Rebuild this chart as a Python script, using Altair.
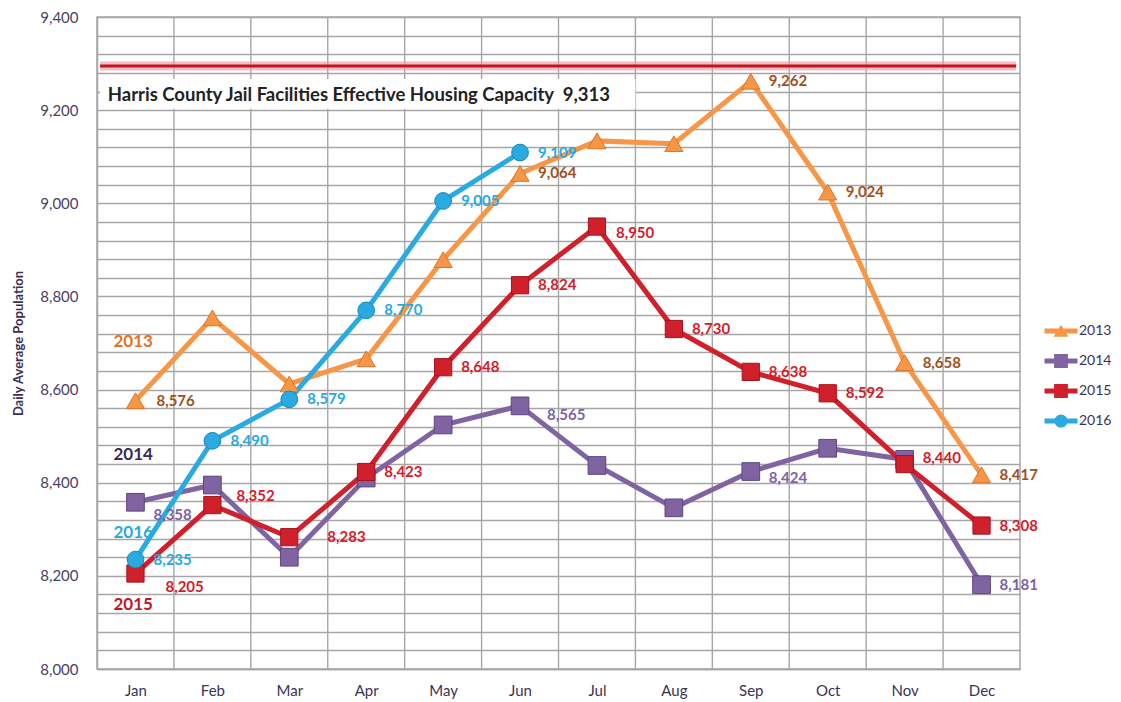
import altair as alt
import pandas as pd

MONTHS = ["Jan", "Feb", "Mar", "Apr", "May", "Jun", "Jul", "Aug", "Sep", "Oct", "Nov", "Dec"]
SERIES = ["2013", "2014", "2015", "2016"]
V2013 = [8576, 8754, 8612, 8666, 8879, 9064, 9134, 9128, 9262, 9024, 8658, 8417]
V2014 = [8358, 8395, 8240, 8410, 8524, 8565, 8437, 8346, 8424, 8474, 8450, 8181]
V2015 = [8205, 8352, 8283, 8423, 8648, 8824, 8950, 8730, 8638, 8592, 8440, 8308]
V2016 = [8235, 8490, 8579, 8770, 9005, 9109]
LABELED = {
    "2013": ["Jan", "Jun", "Sep", "Oct", "Nov", "Dec"],
    "2014": ["Jan", "Jun", "Sep", "Dec"],
    "2015": MONTHS,
    "2016": MONTHS[:6],
}
CAPACITY_TEXT = "Harris County Jail Facilities Effective Housing Capacity\u00a0 9,313"
CAPACITY_DRAWN = 9295
Y_TITLE = "Daily Average Population"
ANNOT_SERIES = ["2013", "2014", "2016", "2015"]
ANNOT_VALUES = [8702, 8459, 8292, 8137]
GRID_VALUES = list(range(8000, 9401, 40))

LINE_COLORS = ["#f79646", "#8064a2", "#d0202c", "#29abe2"]
MARK_STROKES = ["#d9772c", "#5f4585", "#a5121c", "#1a86b8"]
LABEL_COLORS = ["#a0501e", "#7d62a8", "#d41c2a", "#29a9e0"]
ANNOT_COLORS = ["#e9711c", "#3a2d52", "#c0181f", "#29a9e0"]
GRID = "#a6a6a6"
FONT = "Lato"

rows = []
for s, vals in zip(SERIES, [V2013, V2014, V2015, V2016]):
    for i, v in enumerate(vals):
        rows.append({"series": s, "month": MONTHS[i], "pos": i + 0.5, "value": v,
                     "key": f"{s}-{MONTHS[i]}", "labeled": MONTHS[i] in LABELED[s]})
df = pd.DataFrame(rows)
one = pd.DataFrame({"k": [0]})

xscale = alt.Scale(domain=[0, 12], nice=False, zero=False)
yscale = alt.Scale(domain=[8000, 9400], nice=False, zero=False)
month_expr = "[" + ",".join(f"'{m}'" for m in MONTHS) + "][round(datum.value - 0.5)]"
xaxis = alt.Axis(values=[i + 0.5 for i in range(12)], labelExpr=month_expr, grid=False,
                 tickCount=12, ticks=False, domainColor=GRID, domainWidth=1.5, title=None,
                 labelFont=FONT, labelFontSize=15, labelColor="#3b3355", labelPadding=14)
yaxis = alt.Axis(values=GRID_VALUES, tickCount=len(GRID_VALUES),
                 labelExpr="datum.value % 200 === 0 ? format(datum.value, ',') : ''",
                 labelOverlap=False,
                 grid=True, gridColor=GRID, gridWidth=1.4, ticks=False,
                 domainColor=GRID, domainWidth=1.5, labelPadding=19,
                 labelFont=FONT, labelFontSize=15, labelColor="#4a4262",
                 title=Y_TITLE, titleFont=FONT, titleFontSize=13, titleFontWeight="bold",
                 titleColor="#3b2f55", titlePadding=14)


def X():
    return alt.X("pos:Q", scale=xscale, axis=xaxis)


def Y():
    return alt.Y("value:Q", scale=yscale, axis=yaxis)


base = alt.Chart(df)

# vertical gridlines at month boundaries
bounds = pd.DataFrame({"pos": list(range(1, 12))})
vgrid = alt.Chart(bounds).mark_rule(color=GRID, strokeWidth=1.4).encode(
    x=alt.X("pos:Q", scale=xscale, axis=xaxis))

cap_glow = alt.Chart(one).mark_rule(color="#e9a2a8", strokeWidth=9, opacity=0.7).encode(
    x=alt.datum(0.04), x2=alt.datum(11.95), y=alt.datum(CAPACITY_DRAWN))
cap_line = alt.Chart(one).mark_rule(color="#c0171f", strokeWidth=3).encode(
    x=alt.datum(0.04), x2=alt.datum(11.95), y=alt.datum(CAPACITY_DRAWN))
cap_box = alt.Chart(one).mark_rect(color="white").encode(
    x=alt.datum(0.04), x2=alt.datum(7.0), y=alt.datum(9203), y2=alt.datum(9267))
cap_text = alt.Chart(one).mark_text(font=FONT, fontWeight="bold", fontSize=18.5, color="#222222",
                                    align="left", baseline="middle").encode(
    x=alt.datum(0.14), y=alt.datum(9232), text=alt.datum(CAPACITY_TEXT))

lines = base.mark_line(strokeWidth=5).encode(
    x=X(), y=Y(), detail="series:N",
    color=alt.Color("series:N", scale=alt.Scale(domain=SERIES, range=LINE_COLORS), legend=None))

points = base.mark_point(filled=True, opacity=1, strokeWidth=1).encode(
    x=X(), y=Y(),
    color=alt.Color("series:N", scale=alt.Scale(domain=SERIES, range=LINE_COLORS), legend=None),
    stroke=alt.Stroke("series:N", scale=alt.Scale(domain=SERIES, range=MARK_STROKES), legend=None),
    shape=alt.Shape("series:N", scale=alt.Scale(domain=SERIES, range=["triangle-up", "square", "square", "circle"]), legend=None),
    size=alt.Size("series:N", scale=alt.Scale(domain=SERIES, range=[330, 280, 290, 320]), legend=None),
)

SPECIAL = {
    "2014-Jan": (18, 13), "2015-Jan": (30, 13), "2015-Feb": (24, -9), "2015-Mar": (38, 0),
    "2014-Jun": (27, 9), "2015-Jul": (19, 6), "2014-Sep": (18, 6), "2015-Nov": (18, -6),
    "2013-Jan": (21, 0),
}


def label_layer(keys=None, dx=18, dy=0):
    ch = base.transform_filter("datum.labeled").transform_calculate(
        label="format(datum.value, ',')")
    if keys is None:
        ch = ch.transform_filter(~alt.FieldOneOfPredicate(field="key", oneOf=list(SPECIAL.keys())))
    else:
        ch = ch.transform_filter(alt.FieldOneOfPredicate(field="key", oneOf=keys))
    return ch.mark_text(font=FONT, fontWeight="bold", fontSize=15, align="left",
                        baseline="middle", dx=dx, dy=dy).encode(
        x=X(), y=Y(), text="label:N",
        color=alt.Color("series:N", scale=alt.Scale(domain=SERIES, range=LABEL_COLORS), legend=None))


labels = [label_layer()] + [label_layer([k], dx, dy) for k, (dx, dy) in SPECIAL.items()]

annot_df = pd.DataFrame({"series": ANNOT_SERIES, "value": ANNOT_VALUES})
annots = alt.Chart(annot_df).mark_text(font=FONT, fontWeight="bold", fontSize=17,
                                       align="center", baseline="middle").encode(
    x=alt.datum(0.47), y=Y(), text="series:N",
    color=alt.Color("series:N", scale=alt.Scale(domain=SERIES, range=ANNOT_COLORS), legend=None))

BAR = "M-1.1,-0.17H1.1V0.17H-1.1Z"
LEG_SHAPES = [
    BAR + " M0,-0.42L0.5,0.38H-0.5Z",
    BAR + " M-0.46,-0.46H0.46V0.46H-0.46Z",
    BAR + " M-0.46,-0.46H0.46V0.46H-0.46Z",
    BAR + " M0.44,0A0.44,0.44,0,1,1,-0.44,0A0.44,0.44,0,1,1,0.44,0Z",
]
leg = alt.Legend(title=None, orient="none", legendX=949, legendY=299, padding=0,
                 symbolSize=900, symbolOpacity=1, symbolStrokeWidth=0, rowPadding=8,
                 labelOffset=3, labelFont=FONT, labelFontSize=14, labelColor="#3b3355",
                 labelLimit=100)
legend_layer = base.mark_point(filled=True, opacity=0).encode(
    x=X(), y=Y(),
    color=alt.Color("series:N", scale=alt.Scale(domain=SERIES, range=LINE_COLORS), legend=leg),
    shape=alt.Shape("series:N", scale=alt.Scale(domain=SERIES, range=LEG_SHAPES), legend=leg),
)

chart = alt.layer(
    vgrid, cap_glow, cap_line, cap_box, cap_text, lines, points, *labels, annots, legend_layer
).resolve_scale(
    color="independent", shape="independent", stroke="independent", size="independent"
).properties(
    width=923, height=652,
    padding={"left": 89, "top": 9, "right": 93, "bottom": 30},
    autosize=alt.AutoSizeParams(type="none"),
).configure_view(stroke=GRID, strokeWidth=1.5)

chart.save("out.html", embed_options={"renderer": "svg", "actions": False})
